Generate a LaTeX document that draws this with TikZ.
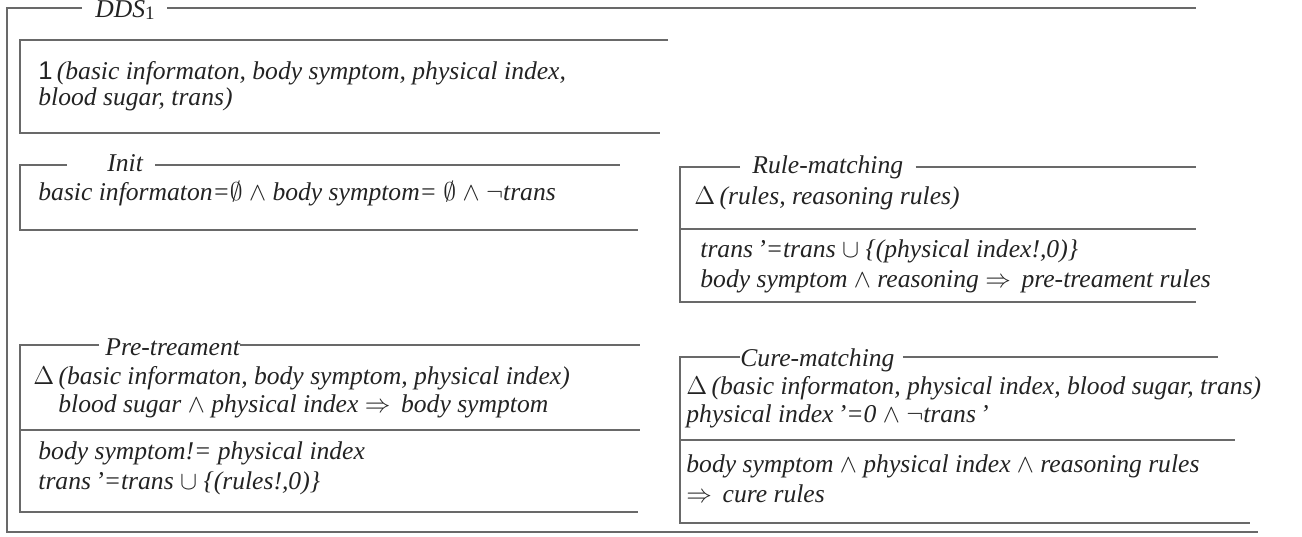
\RequirePackage{fix-cm}
\documentclass[tikz,border=0pt]{standalone}
\usepackage{fontspec}
\usetikzlibrary{calc}
\setmainfont{Liberation Serif}
\newfontfamily\sanf{Liberation Sans}
\definecolor{lineg}{RGB}{105,105,105}
\definecolor{inkc}{RGB}{35,35,35}
\newcommand{\bodyfont}{\fontsize{12.8pt}{13pt}\selectfont\itshape}
\newcommand{\up}[1]{\textup{#1}}
\begin{document}
\begin{tikzpicture}[x=0.5pt,y=-0.5pt,
  frame/.style={draw=lineg, line width=0.9pt},
  body/.style={anchor=mid west, inner sep=0pt, text=inkc, font=\bodyfont}]
\useasboundingbox (0,0) rectangle (1302,536);

% ---- outer schema DDS_1
\node[body] (ddsT) at (95,13) {DDS\raisebox{-0.15ex}{\up{\fontsize{9.5pt}{10pt}\selectfont 1}}};
\coordinate (oTL) at (7,8);    \coordinate (oTR) at (1196,8);
\coordinate (oBL) at (7,532);  \coordinate (oBR) at (1258,532);
\draw[frame] ($(ddsT.west |- oTL)+(-13,0)$) -- (oTL) -- (oBL) -- (oBR);
\draw[frame] ($(ddsT.east |- oTL)+(12,0)$) -- (oTR);

% ---- state declaration
\coordinate (aTL) at (20,40);  \coordinate (aTR) at (668,40);
\coordinate (aBL) at (20,133); \coordinate (aBR) at (660,133);
\draw[frame] (aTR) -- (aTL) -- (aBL) -- (aBR);
\node[body] (a1) at (38,75) {{\sanf\upshape 1}\,(basic informaton, body symptom, physical index,};
\node[body] (a2) at (38,101) {blood sugar, trans)};

% ---- Init
\coordinate (bTL) at (20,165);  \coordinate (bTR) at (620,165);
\coordinate (bBL) at (20,230);  \coordinate (bBR) at (638,230);
\node[body] (initT) at (107,167) {Init};
\draw[frame] ($(initT.west |- bTL)+(-40,0)$) -- (bTL) -- (bBL) -- (bBR);
\draw[frame] ($(initT.east |- bTL)+(12,0)$) -- (bTR);
\node[body] (b1) at (38,196) {basic informaton=$\emptyset$ $\wedge$ body symptom= $\emptyset$ $\wedge$ $\neg$trans};

% ---- Rule-matching
\coordinate (rTL) at (680,167);  \coordinate (rTR) at (1196,167);
\coordinate (rML) at (680,229);  \coordinate (rMR) at (1196,229);
\coordinate (rBL) at (680,302);  \coordinate (rBR) at (1196,302);
\node[body] (rT) at (752,169) {Rule-matching};
\draw[frame] ($(rT.west |- rTL)+(-12,0)$) -- (rTL) -- (rBL) -- (rBR);
\draw[frame] ($(rT.east |- rTL)+(12,0)$) -- (rTR);
\draw[frame] (rML) -- (rMR);
\node[body] (r1) at (694,200) {$\Delta$\,(rules, reasoning rules)};
\node[body] (r2) at (700,253) {trans\,’=trans $\cup$ \{(physical index!,0)\}};
\node[body] (r3) at (700,283) {body symptom $\wedge$ reasoning $\Rightarrow$\, pre-treament rules};

% ---- Pre-treament
\coordinate (pTL) at (20,345);  \coordinate (pTR) at (640,345);
\coordinate (pML) at (20,430);  \coordinate (pMR) at (640,430);
\coordinate (pBL) at (20,512);  \coordinate (pBR) at (638,512);
\node[body] (pT) at (105,351) {Pre-treament};
\draw[frame] ($(pT.west |- pTL)+(-6,0)$) -- (pTL) -- (pBL) -- (pBR);
\draw[frame] (pT.east |- pTL) -- (pTR);
\draw[frame] (pML) -- (pMR);
\node[body] (p1) at (33,380) {$\Delta$\,(basic informaton, body symptom, physical index)};
\node[body] (p2) at (58,408) {blood sugar $\wedge$ physical index $\Rightarrow$\, body symptom};
\node[body] (p3) at (38,455) {body symptom!= physical index};
\node[body] (p4) at (38,485) {trans\,’=trans $\cup$ \{(rules!,0)\}};

% ---- Cure-matching
\coordinate (cTL) at (680,357);  \coordinate (cTR) at (1218,357);
\coordinate (cML) at (680,440);  \coordinate (cMR) at (1235,440);
\coordinate (cBL) at (680,523);  \coordinate (cBR) at (1250,523);
\node[body] (cT) at (740,362) {Cure-matching};
\draw[frame] (cT.west |- cTL) -- (cTL) -- (cBL) -- (cBR);
\draw[frame] ($(cT.east |- cTL)+(8,0)$) -- (cTR);
\draw[frame] (cML) -- (cMR);
\node[body] (c1) at (686,390) {$\Delta$\,(basic informaton, physical index, blood sugar, trans)};
\node[body] (c2) at (686,418) {physical index\,’=0 $\wedge$ $\neg$trans\,’};
\node[body] (c3) at (686,468) {body symptom $\wedge$ physical index $\wedge$ reasoning rules};
\node[body] (c4) at (686,498) {$\Rightarrow$\, cure rules};
\end{tikzpicture}
\end{document}
